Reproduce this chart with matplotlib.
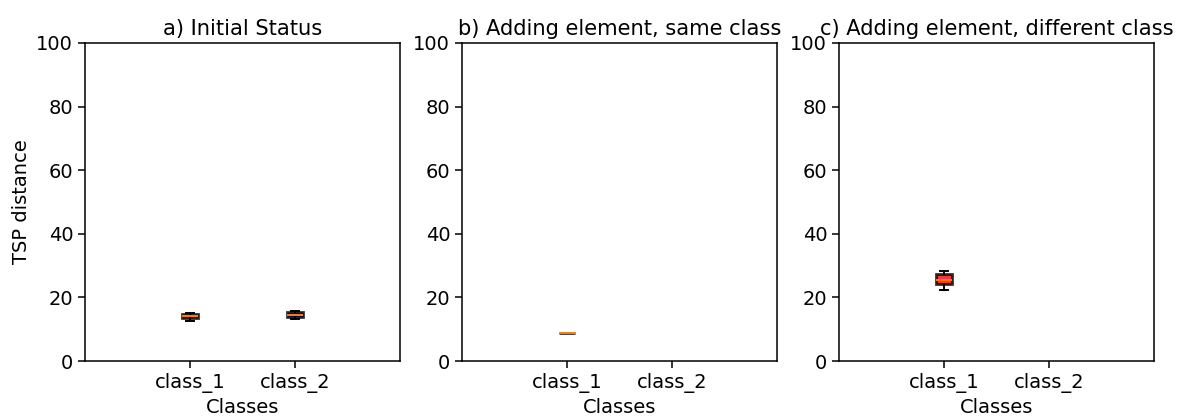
import matplotlib
matplotlib.use("Agg")
import matplotlib.pyplot as plt

# values (min, q1, median, q3, max)
class_names = ["class_1", "class_2"]
titles = ["a) Initial Status", "b) Adding element, same class",
          "c) Adding element, different class"]

initial_class_1 = [12.7, 13.4, 14.0, 14.7, 15.1]
initial_class_2 = [13.2, 13.9, 14.5, 15.3, 15.7]
same_class_1 = [8.8, 8.8, 8.8, 8.8, 8.8]
same_class_2 = []
diff_class_1 = [22.3, 24.2, 25.5, 27.4, 28.4]
diff_class_2 = []

panels = [
    [initial_class_1, initial_class_2],
    [same_class_1, same_class_2],
    [diff_class_1, diff_class_2],
]
box_colors = ["red", "blue"]


def draw_panel(ax, data, title):
    for i, values in enumerate(data):
        if not values:
            continue
        bp = ax.boxplot([values], positions=[i + 1], widths=0.15,
                        whis=(0, 100), patch_artist=True, showfliers=False,
                        medianprops={"linewidth": 1.4},
                        whiskerprops={"linewidth": 1.4},
                        capprops={"linewidth": 1.4})
        for box in bp["boxes"]:
            box.set_facecolor(box_colors[i])
            box.set_edgecolor("black")
            box.set_linewidth(2)
            box.set_alpha(0.8)
    ax.set_xlim(0, 3)
    ax.set_ylim(0, 100)
    ax.set_xticks([1, 2])
    ax.set_xticklabels(class_names)
    ax.tick_params(labelsize=14, length=5, width=1.1)
    for spine in ax.spines.values():
        spine.set_linewidth(1.1)
    ax.set_xlabel("Classes", fontsize=14, labelpad=4)
    ax.set_title(title, fontsize=15.1)


def main():
    fig = plt.figure(figsize=(11.96, 4.19), dpi=100)
    lefts = [85, 462, 839]
    axes = []
    for left in lefts:
        axes.append(fig.add_axes([left / 1196, 58 / 419, 315 / 1196, 318 / 419]))
    for ax, data, title in zip(axes, panels, titles):
        draw_panel(ax, data, title)
    axes[0].set_ylabel("TSP distance", fontsize=14)
    fig.savefig("out.png", dpi=100)


if __name__ == "__main__":
    main()
